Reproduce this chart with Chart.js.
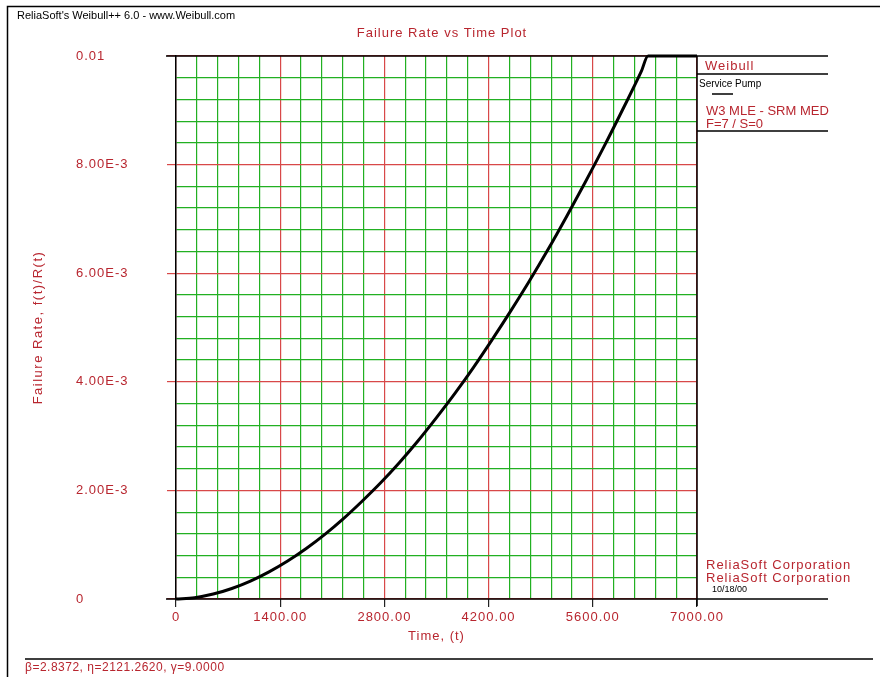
<!DOCTYPE html>
<html>
<head>
<meta charset="utf-8">
<script src="https://cdn.jsdelivr.net/npm/chart.js@4"></script>
<style>
  html, body { margin: 0; padding: 0; background: #fff; }
  #wrap { width: 880px; height: 677px; position: relative; }
</style>
</head>
<body>
<div id="wrap"><canvas id="rateChart"></canvas></div>
<script>
// 数据：时间与失效率
const timeValues = [0, 250, 500, 750, 1000, 1250, 1500, 1750, 2000, 2250, 2500, 2750, 3000,
    3250, 3500, 3750, 4000, 4250, 4500, 4750, 5000, 5250, 5500, 5750, 6000, 6250, 6342, 7000];
const rateValues = [0, 0.0000246, 0.0000909, 0.000194, 0.000330, 0.000500, 0.000700, 0.000930,
    0.00119, 0.00148, 0.00180, 0.00214, 0.00251, 0.00291, 0.00334, 0.00379, 0.00427, 0.00478,
    0.00531, 0.00586, 0.00644, 0.00705, 0.00768, 0.00833, 0.00901, 0.00971, 0.01, 0.01];
const xMajorTicks = [0, 1400, 2800, 4200, 5600, 7000];
const xTickLabels = ['0', '1400.00', '2800.00', '4200.00', '5600.00', '7000.00'];
const yMajorTicks = [0, 0.002, 0.004, 0.006, 0.008, 0.01];
const yTickLabels = ['0', '2.00E-3', '4.00E-3', '6.00E-3', '8.00E-3', '0.01'];

const RED = '#b8262f';
const GRID_RED = '#d84848';
const GRID_GREEN = '#22b022';
const FONT = '"Liberation Sans", Arial, sans-serif';

function majorIndex(list, v) {
    return list.findIndex(m => Math.abs(m - v) < 1e-9);
}

// 刻度文字加一点字距
const spacingPlugin = {
    id: 'spacing',
    beforeDraw(chart) {
        chart.ctx.letterSpacing = '1px';
    }
};

// 额外的文字和边框
const decorPlugin = {
    id: 'decor',
    afterDraw(chart) {
        const ctx = chart.ctx;
        const a = chart.chartArea;
        ctx.save();
        ctx.strokeStyle = '#000';
        ctx.lineWidth = 1.5;
        ctx.beginPath();
        // 外框
        ctx.moveTo(7.5, 677); ctx.lineTo(7.5, 6.5); ctx.lineTo(880, 6.5);
        // 图区上边和右边
        ctx.moveTo(a.left - 10, a.top); ctx.lineTo(828, a.top);
        ctx.moveTo(a.right, a.top); ctx.lineTo(a.right, a.bottom + 7);
        ctx.moveTo(a.left - 10, a.bottom); ctx.lineTo(828, a.bottom);
        // 图例分隔线
        ctx.moveTo(a.right, 74); ctx.lineTo(828, 74);
        ctx.moveTo(a.right, 131); ctx.lineTo(828, 131);
        ctx.moveTo(712, 94); ctx.lineTo(733, 94);
        // 底部分隔线
        ctx.moveTo(25, 659); ctx.lineTo(873, 659);
        ctx.stroke();

        ctx.textBaseline = 'middle';
        ctx.fillStyle = '#000';
        ctx.letterSpacing = '0px';
        ctx.font = '11px ' + FONT;
        ctx.textAlign = 'left';
        ctx.fillText("ReliaSoft's Weibull++ 6.0 - www.Weibull.com", 17, 16);
        ctx.font = '10px ' + FONT;
        ctx.fillText('Service Pump', 699, 84);
        ctx.font = '9px ' + FONT;
        ctx.fillText('10/18/00', 712, 590);

        ctx.fillStyle = RED;
        ctx.letterSpacing = '1px';
        ctx.font = '13px ' + FONT;
        ctx.textAlign = 'center';
        ctx.fillText('Failure Rate vs Time Plot', 442, 33);
        ctx.fillText('Time, (t)', (a.left + a.right) / 2, 636);
        ctx.save();
        ctx.translate(38, (a.top + a.bottom) / 2);
        ctx.rotate(-Math.PI / 2);
        ctx.letterSpacing = '1.5px';
        ctx.fillText('Failure Rate, f(t)/R(t)', 0, 0);
        ctx.restore();

        ctx.textAlign = 'left';
        ctx.fillText('Weibull', 705, 66);
        ctx.fillText('ReliaSoft Corporation', 706, 565);
        ctx.fillText('ReliaSoft Corporation', 706, 578);
        ctx.letterSpacing = '0px';
        ctx.fillText('W3 MLE - SRM MED', 706, 111);
        ctx.fillText('F=7 / S=0', 706, 124);
        ctx.letterSpacing = '0.5px';
        ctx.font = '12px ' + FONT;
        ctx.fillText('\u03b2=2.8372, \u03b7=2121.2620, \u03b3=9.0000', 25, 668);
        ctx.restore();
    }
};

const points = timeValues.map((t, i) => ({ x: t, y: rateValues[i] }));

new Chart(document.getElementById('rateChart'), {
    type: 'line',
    data: {
        datasets: [{
            data: points,
            borderColor: '#000',
            borderWidth: 3,
            pointRadius: 0,
            cubicInterpolationMode: 'monotone',
            fill: false,
            clip: false
        }]
    },
    options: {
        responsive: true,
        maintainAspectRatio: false,
        animation: false,
        layout: { padding: { left: 76, right: 183, top: 56, bottom: 38 } },
        plugins: { legend: { display: false }, tooltip: { enabled: false } },
        scales: {
            x: {
                type: 'linear',
                min: 0,
                max: 7000,
                afterFit(scale) { scale.height = 40; },
                border: { display: false },
                grid: {
                    color: c => majorIndex(xMajorTicks, c.tick.value) >= 0 ? GRID_RED : GRID_GREEN,
                    lineWidth: 1.2,
                    tickLength: 8,
                    tickColor: c => majorIndex(xMajorTicks, c.tick.value) >= 0 ? '#222' : 'rgba(0,0,0,0)'
                },
                ticks: {
                    stepSize: 280,
                    maxTicksLimit: 100,
                    autoSkip: false,
                    maxRotation: 0,
                    padding: 3,
                    color: RED,
                    font: { family: FONT, size: 13 },
                    callback: v => {
                        const i = majorIndex(xMajorTicks, v);
                        return i >= 0 ? xTickLabels[i] : '';
                    }
                }
            },
            y: {
                min: 0,
                max: 0.01,
                afterFit(scale) { scale.width = 100; },
                border: { display: true, color: '#000', width: 1.5 },
                grid: {
                    color: c => majorIndex(yMajorTicks, c.tick.value) >= 0 ? GRID_RED : GRID_GREEN,
                    lineWidth: 1.2,
                    tickLength: 9,
                    tickColor: c => majorIndex(yMajorTicks, c.tick.value) >= 0 ? GRID_RED : 'rgba(0,0,0,0)'
                },
                ticks: {
                    stepSize: 0.0004,
                    maxTicksLimit: 100,
                    autoSkip: false,
                    crossAlign: 'far',
                    color: RED,
                    font: { family: FONT, size: 13 },
                    callback: v => {
                        const i = majorIndex(yMajorTicks, v);
                        return i >= 0 ? yTickLabels[i] : '';
                    }
                }
            }
        }
    },
    plugins: [spacingPlugin, decorPlugin]
});
</script>
</body>
</html>
